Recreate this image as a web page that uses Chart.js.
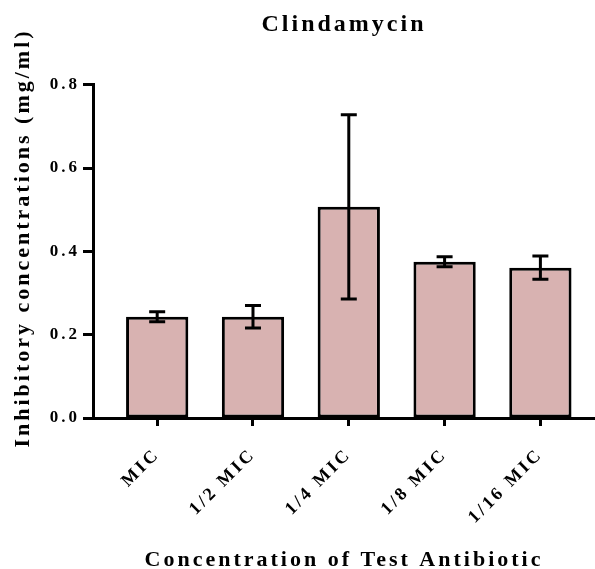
<!DOCTYPE html>
<html>
<head>
<meta charset="utf-8">
<script src="https://cdn.jsdelivr.net/npm/chart.js@4.4.1/dist/chart.umd.min.js"></script>
<style>
html, body { margin: 0; padding: 0; background: #fff; }
</style>
</head>
<body>
<canvas id="chart" width="595" height="569"></canvas>
<script>
//Chart data
let categories = ['MIC', '1/2 MIC', '1/4 MIC', '1/8 MIC', '1/16 MIC'];
let mean_values = [0.243, 0.243, 0.507, 0.375, 0.361];
let error_values = [0.012, 0.027, 0.221, 0.012, 0.028];
let y_ticks = [0.0, 0.2, 0.4, 0.6, 0.8];

let chart_title = 'Clindamycin';
let x_axis_title = 'Concentration of Test Antibiotic';
let y_axis_title = 'Inhibitory concentrations (mg/ml)';

let serif = '"Liberation Serif", "Times New Roman", serif';

//Letter spacing for all canvas text (reset whenever the canvas is resized)
const letter_spacing = {
    id: 'letter_spacing',
    beforeLayout: (chart) => { chart.ctx.letterSpacing = '3px'; },
    beforeDraw: (chart) => { chart.ctx.letterSpacing = '3px'; }
};

//Mean +/- error whiskers, placed through the chart's own scales
const error_bars = {
    id: 'error_bars',
    afterDatasetsDraw: (chart) => {
        let ctx = chart.ctx;
        let y_scale = chart.scales.y;
        let bars = chart.getDatasetMeta(0).data;
        ctx.save();
        ctx.strokeStyle = '#000';
        ctx.lineWidth = 3;
        bars.forEach((bar, i) => {
            let top = y_scale.getPixelForValue(mean_values[i] + error_values[i]);
            let bottom = y_scale.getPixelForValue(mean_values[i] - error_values[i]);
            ctx.beginPath();
            ctx.moveTo(bar.x, top);
            ctx.lineTo(bar.x, bottom);
            ctx.moveTo(bar.x - 8, top);
            ctx.lineTo(bar.x + 8, top);
            ctx.moveTo(bar.x - 8, bottom);
            ctx.lineTo(bar.x + 8, bottom);
            ctx.stroke();
        });
        ctx.restore();
    }
};

//Y axis title drawn by hand so it is not squeezed to the axis height
const y_title = {
    id: 'y_title',
    afterDraw: (chart) => {
        let ctx = chart.ctx;
        ctx.save();
        ctx.letterSpacing = '3px';
        ctx.font = 'bold 22px ' + serif;
        ctx.fillStyle = '#000';
        ctx.textAlign = 'center';
        ctx.textBaseline = 'middle';
        ctx.translate(23, 238);
        ctx.rotate(-Math.PI / 2);
        ctx.fillText(y_axis_title, 0, 0);
        ctx.restore();
    }
};

let chart_canvas = document.getElementById('chart');

let chart = new Chart(chart_canvas, {
    type: 'bar',
    data: {
        datasets: [{
            data: mean_values.map((v, i) => ({ x: i, y: v })),
            backgroundColor: '#d8b2b1',
            borderColor: '#000',
            borderWidth: 3,
            borderSkipped: false,
            barPercentage: 0.65,
            categoryPercentage: 1
        }]
    },
    options: {
        responsive: false,
        animation: false,
        layout: { padding: 0 },
        plugins: {
            legend: { display: false },
            tooltip: { enabled: false },
            title: {
                display: true,
                text: chart_title,
                fullSize: false,
                color: '#000',
                font: { family: serif, size: 24, weight: 'bold', lineHeight: 1.2 },
                padding: { top: 10, bottom: 46 }
            }
        },
        scales: {
            x: {
                type: 'linear',
                offset: false,
                min: -0.67,
                max: 4.57,
                afterBuildTicks: (scale) => { scale.ticks = categories.map((c, i) => ({ value: i })); },
                afterFit: (scale) => { scale.height = 151; scale.paddingLeft = 0; scale.paddingRight = 0; },
                ticks: {
                    autoSkip: false,
                    minRotation: 45,
                    maxRotation: 45,
                    padding: 18,
                    color: '#000',
                    font: { family: serif, size: 18, weight: 'bold' },
                    callback: (v) => categories[Math.round(v)]
                },
                grid: { offset: false, drawOnChartArea: false, drawTicks: true, tickLength: 8, tickWidth: 3, tickColor: '#000' },
                border: { color: '#000', width: 3 },
                title: {
                    display: true,
                    text: x_axis_title,
                    color: '#000',
                    font: { family: serif, size: 22, weight: 'bold', lineHeight: 0.8 },
                    padding: 0
                }
            },
            y: {
                min: 0,
                max: 0.8,
                afterBuildTicks: (scale) => { scale.ticks = y_ticks.map(v => ({ value: v })); },
                afterFit: (scale) => { scale.width = 93; },
                ticks: {
                    padding: 3,
                    color: '#000',
                    font: { family: serif, size: 17, weight: 'bold' },
                    callback: (v) => v.toFixed(1)
                },
                grid: { drawOnChartArea: false, drawTicks: true, tickLength: 10, tickWidth: 3, tickColor: '#000' },
                border: { color: '#000', width: 3 }
            }
        }
    },
    plugins: [letter_spacing, error_bars, y_title]
});
</script>
</body>
</html>
